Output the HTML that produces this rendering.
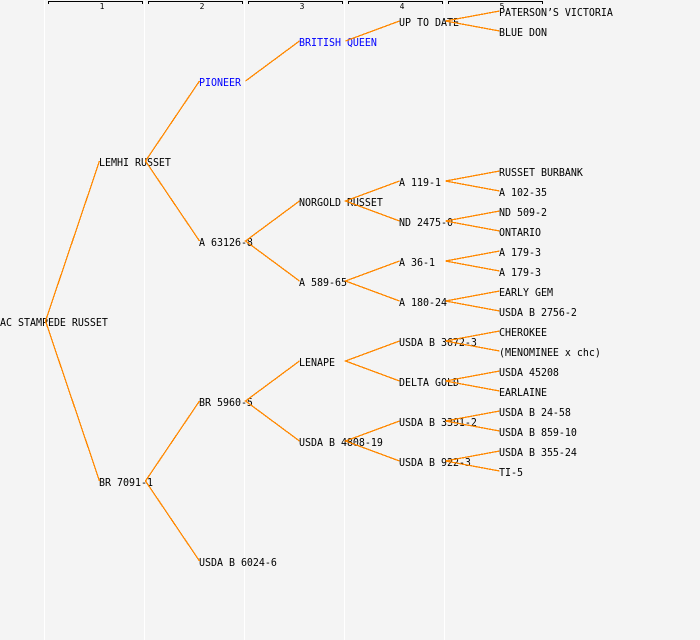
<!DOCTYPE html>
<html><head><meta charset="utf-8"><style>
html,body{margin:0;padding:0;background:#f4f4f4}
svg{display:block}
text{font-family:"DejaVu Sans Mono","Liberation Mono",monospace;font-size:10px;fill:#000;letter-spacing:-0.02px}
.b{fill:#00f}
.n{font-size:8px;text-anchor:middle}
.w{stroke:#fff;stroke-width:1;shape-rendering:crispEdges}
.h{fill:none;stroke:#000;stroke-width:1;shape-rendering:crispEdges}
.l{stroke:#ff8800;stroke-width:1.3;fill:none;shape-rendering:crispEdges}
</style></head><body>
<svg width="700" height="640" viewBox="0 0 700 640" xmlns="http://www.w3.org/2000/svg">
<rect width="700" height="640" fill="#f4f4f4"/>
<g class="w"><line x1="44.5" y1="0" x2="44.5" y2="640"/><line x1="144.5" y1="0" x2="144.5" y2="640"/><line x1="244.5" y1="0" x2="244.5" y2="640"/><line x1="344.5" y1="0" x2="344.5" y2="640"/><line x1="444.5" y1="0" x2="444.5" y2="640"/></g>
<g class="h"><path d="M48.5 4V1.5H142.5V4"/><path d="M148.5 4V1.5H242.5V4"/><path d="M248.5 4V1.5H342.5V4"/><path d="M348.5 4V1.5H442.5V4"/><path d="M448.5 4V1.5H542.5V4"/></g>
<text class="n" x="102" y="9">1</text><text class="n" x="202" y="9">2</text><text class="n" x="302" y="9">3</text><text class="n" x="402" y="9">4</text><text class="n" x="502" y="9">5</text>
<g transform="scale(1,1.1)">
<text x="0" y="296.36">AC STAMPEDE RUSSET</text>
<text x="99" y="150.91">LEMHI RUSSET</text><text x="99" y="441.82">BR 7091-1</text>
<text x="199" y="78.18" class="b">PIONEER</text><text x="199" y="223.64">A 63126-8</text><text x="199" y="369.09">BR 5960-5</text><text x="199" y="514.55">USDA B 6024-6</text>
<text x="299" y="41.82" class="b">BRITISH QUEEN</text><text x="299" y="187.27">NORGOLD RUSSET</text><text x="299" y="260">A 589-65</text><text x="299" y="332.73">LENAPE</text><text x="299" y="405.45">USDA B 4808-19</text>
<text x="399" y="23.64">UP TO DATE</text><text x="399" y="169.09">A 119-1</text><text x="399" y="205.45">ND 2475-0</text><text x="399" y="241.82">A 36-1</text><text x="399" y="278.18">A 180-24</text><text x="399" y="314.55">USDA B 3672-3</text><text x="399" y="350.91">DELTA GOLD</text><text x="399" y="387.27">USDA B 3391-2</text><text x="399" y="423.64">USDA B 922-3</text>
<text x="499" y="14.55">PATERSON’S VICTORIA</text><text x="499" y="32.73">BLUE DON</text><text x="499" y="160">RUSSET BURBANK</text><text x="499" y="178.18">A 102-35</text><text x="499" y="196.36">ND 509-2</text><text x="499" y="214.55">ONTARIO</text><text x="499" y="232.73">A 179-3</text><text x="499" y="250.91">A 179-3</text><text x="499" y="269.09">EARLY GEM</text><text x="499" y="287.27">USDA B 2756-2</text><text x="499" y="305.45">CHEROKEE</text><text x="499" y="323.64">(MENOMINEE x chc)</text><text x="499" y="341.82">USDA 45208</text><text x="499" y="360">EARLAINE</text><text x="499" y="378.18">USDA B 24-58</text><text x="499" y="396.36">USDA B 859-10</text><text x="499" y="414.55">USDA B 355-24</text><text x="499" y="432.73">TI-5</text>
</g>
<path class="l" d="M99.5 161L45.5 321L99.5 481M199.5 81L145.5 161L199.5 241M199.5 401L145.5 481L199.5 561M299.5 41L245.5 81M299.5 201L245.5 241L299.5 281M299.5 361L245.5 401L299.5 441M399.5 21L345.5 41M399.5 181L345.5 201L399.5 221M399.5 261L345.5 281L399.5 301M399.5 341L345.5 361L399.5 381M399.5 421L345.5 441L399.5 461M499.5 11L445.5 21L499.5 31M499.5 171L445.5 181L499.5 191M499.5 211L445.5 221L499.5 231M499.5 251L445.5 261L499.5 271M499.5 291L445.5 301L499.5 311M499.5 331L445.5 341L499.5 351M499.5 371L445.5 381L499.5 391M499.5 411L445.5 421L499.5 431M499.5 451L445.5 461L499.5 471"/>
</svg>
</body></html>
